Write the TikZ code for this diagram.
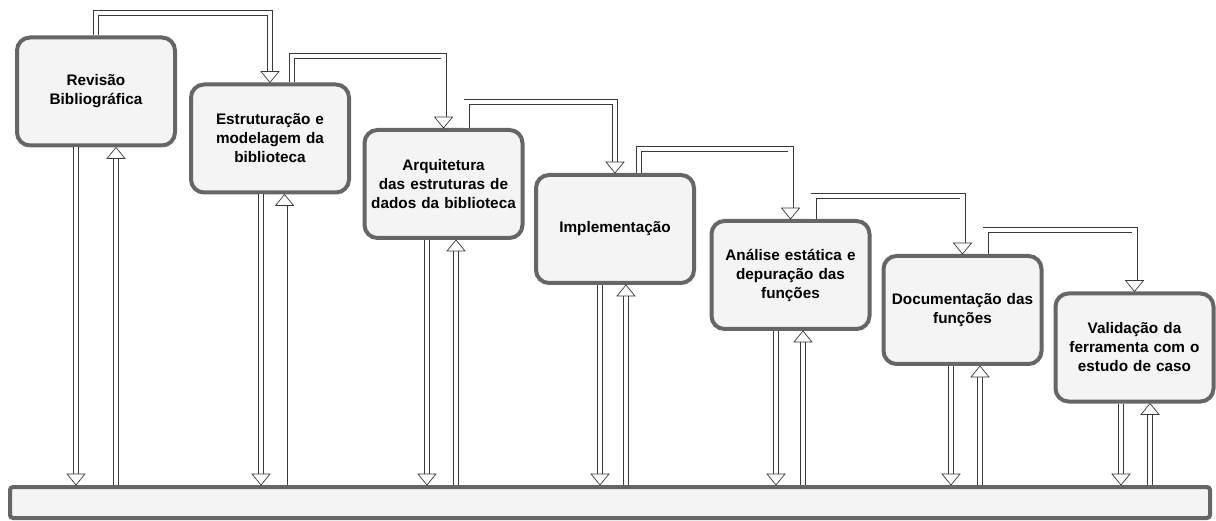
\documentclass[tikz,border=0pt]{standalone}
\usepackage{fontspec}
\setmainfont{Liberation Sans}[BoldFont={Liberation Sans Bold}]
\usetikzlibrary{calc}
\definecolor{boxborder}{HTML}{666666}
\definecolor{boxfill}{HTML}{F4F4F4}
\definecolor{arrline}{HTML}{3A3A3A}
\begin{document}
\begin{tikzpicture}[x=1pt,y=-1pt,
  stepbox/.style={draw=boxborder, fill=boxfill, line width=4pt, rounded corners=13pt,
    minimum width=158pt, minimum height=108pt, inner sep=0pt, text width=156pt,
    align=center, font=\bfseries\fontsize{15.3}{19}\selectfont},
  shaft/.style={draw=arrline, line width=0.7pt, double=white, double distance=4.6pt},
  htip/.pic={\draw[fill=white, draw=arrline, line width=0.7pt, line join=miter]
    (-9,-11) -- (9,-11) -- (0,0) -- cycle;}
]
\useasboundingbox (0,0) rectangle (1216,521);

\node[stepbox] (b1) at (96,91.5) {Revisão\\Bibliográfica};
\node[stepbox] (b2) at (270,138.5) {Estruturação e\\modelagem da\\biblioteca};
\node[stepbox] (b3) at (443.5,184) {Arquitetura\\das estruturas de\\dados da biblioteca};
\node[stepbox] (b4) at (615,229) {Implementação};
\node[stepbox] (b5) at (790.5,275) {Análise estática e\\depuração das\\funções};
\node[stepbox] (b6) at (962.5,310) {Documentação das\\funções};
\node[stepbox] (b7) at (1134.5,347.5) {Validação da\\ferramenta com o\\estudo de caso};
\node[draw=boxborder, fill=boxfill, line width=4pt, rounded corners=3pt,
  minimum width=1200pt, minimum height=31pt, inner sep=0pt] (bar) at (610,502.5) {};

% top connectors between successive steps
\foreach \a/\b/\off/\lev in {b1/b2/0/13, b2/b3/22/56, b3/b4/23/102, b4/b5/24/149, b5/b6/23/196, b6/b7/23/230} {
  \coordinate (s) at ([xshift=\off pt]\a.north);
  \draw[shaft] (s) -- (s |- 0,\lev) -| ($(\b.north)+(0,-11)$);
  \pic at (\b.north) {htip};
}

% vertical connectors to and from the bottom bar
\foreach \n/\d/\u in {b1/-20/20, b2/-9/14.5, b3/-16.5/12.5, b4/-15/11, b5/-14.5/12.5, b6/-11.5/17.5, b7/-13.5/15.5} {
  \coordinate (d1) at ([xshift=\d pt]\n.south);
  \coordinate (d2) at (d1 |- bar.north);
  \draw[shaft] (d1) -- ($(d2)+(0,-11)$);
  \pic at (d2) {htip};
  \coordinate (u1) at ([xshift=\u pt]\n.south);
  \coordinate (u2) at (u1 |- bar.north);
  \draw[shaft] (u2) -- ($(u1)+(0,11)$);
  \pic[rotate=180] at (u1) {htip};
}
\end{tikzpicture}
\end{document}
